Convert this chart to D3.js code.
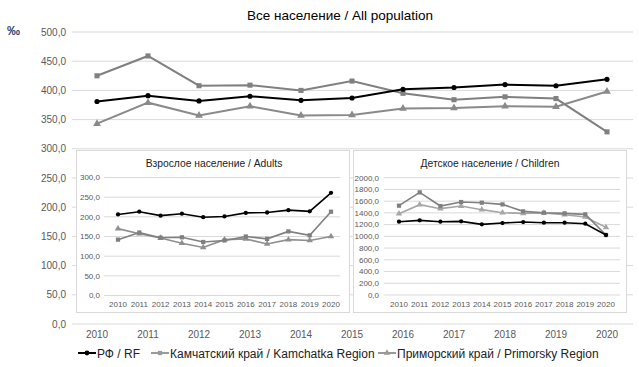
<!DOCTYPE html>
<html>
<head>
<meta charset="utf-8">
<script src="https://cdn.jsdelivr.net/npm/d3@7"></script>
<style>
body{margin:0;background:#fff;}
text{font-family:"Liberation Sans",Arial,sans-serif;}
</style>
</head>
<body>
<svg id="chart" width="639" height="367"></svg>
<script>
var years = [2010,2011,2012,2013,2014,2015,2016,2017,2018,2019,2020];

// all population
var allRF = [381,391,382,390,383,387,402,405,410,408,419];
var allKam = [425,459,408,409,400,416,395,384,389,386,329];
var allPrim = [343,379,357,373,357,358,369,370,373,372,398];

// adults
var adRF = [206,213,203,208,199,201,210,211,217,214,261];
var adKam = [142,160,147,148,136,140,150,144,163,153,213];
var adPrim = [170,157,146,133,122,142,144,131,142,140,150];

// children
var chRF = [1250,1273,1250,1256,1205,1227,1244,1233,1233,1216,1023];
var chKam = [1523,1750,1517,1585,1574,1545,1426,1403,1392,1375,1023];
var chPrim = [1386,1540,1472,1517,1455,1403,1392,1398,1369,1330,1153];

var legendNames = ['РФ / RF','Камчатский край / Kamchatka Region','Приморский край / Primorsky Region'];

var svg = d3.select('#chart');
var fmt = function(d){ return d3.format('.1f')(d).replace('.', ','); };
var gridColor = '#d9d9d9';
var labelColor = '#595959';

//draw one chart with 3 series
function drawChart(place, opt){
	var x = d3.scalePoint().domain(years).range([opt.x0, opt.x1]);
	var y = d3.scaleLinear().domain([0, opt.max]).range([opt.y0, opt.y1]);

	place.append('g')
	.selectAll('line')
	.data(d3.range(0, opt.max + 1, opt.step))
	.enter()
	.append('line')
	.attr('x1', opt.gx0).attr('x2', opt.gx1)
	.attr('y1', function(d){ return y(d); })
	.attr('y2', function(d){ return y(d); })
	.attr('stroke', gridColor)
	.attr('stroke-width', 1);

	place.append('g')
	.selectAll('text')
	.data(d3.range(0, opt.max + 1, opt.step))
	.enter()
	.append('text')
	.attr('x', opt.labelX)
	.attr('y', function(d){ return y(d) + opt.fs*0.35; })
	.attr('text-anchor', 'end')
	.attr('font-size', opt.fs)
	.attr('fill', labelColor)
	.text(fmt);

	place.append('g')
	.selectAll('text')
	.data(years)
	.enter()
	.append('text')
	.attr('x', function(d){ return x(d); })
	.attr('y', opt.xLabelY)
	.attr('text-anchor', 'middle')
	.attr('font-size', opt.xfs)
	.attr('fill', labelColor)
	.text(function(d){ return d; });

	var line = d3.line()
	.x(function(d,i){ return x(years[i]); })
	.y(function(d){ return y(d); });

	var series = [
		{v: opt.prim, c: opt.primColor, m: 'tri'},
		{v: opt.kam, c: opt.kamColor, m: 'sq'},
		{v: opt.rf, c: '#000', m: 'circ'}
	];
	series.forEach(function(s){
		place.append('path')
		.attr('d', line(s.v))
		.attr('fill', 'none')
		.attr('stroke', s.c)
		.attr('stroke-width', opt.lw);
		var sym = s.m == 'tri' ? d3.symbolTriangle : (s.m == 'sq' ? d3.symbolSquare : d3.symbolCircle);
		var size = s.m == 'circ' ? opt.ms*0.8 : opt.ms;
		place.append('g')
		.selectAll('path')
		.data(s.v)
		.enter()
		.append('path')
		.attr('d', d3.symbol().type(sym).size(size))
		.attr('transform', function(d,i){ return 'translate(' + x(years[i]) + ',' + y(d) + ')'; })
		.attr('fill', s.c);
	});
}

// main chart
svg.append('text')
.attr('x', 340).attr('y', 20)
.attr('text-anchor', 'middle')
.attr('font-size', 13.5)
.attr('fill', '#000')
.text('Все население / All population');

svg.append('text')
.attr('x', 7).attr('y', 35)
.attr('font-size', 13)
.attr('font-weight', 'bold')
.attr('fill', '#2f3f6f')
.text('‰');

drawChart(svg, {
	x0: 97, x1: 607, y0: 324, y1: 32, max: 500, step: 50,
	gx0: 72, gx1: 633, labelX: 66, fs: 10, xfs: 10, xLabelY: 338,
	rf: allRF, kam: allKam, prim: allPrim,
	kamColor: '#808080', primColor: '#8a8a8a', lw: 2, ms: 26
});

// inset boxes
function drawBox(bx, by, bw, bh, title, tx){
	var g = svg.append('g');
	g.append('rect')
	.attr('x', bx).attr('y', by)
	.attr('width', bw).attr('height', bh)
	.attr('fill', '#fff')
	.attr('stroke', gridColor)
	.attr('stroke-width', 1);
	g.append('text')
	.attr('x', tx).attr('y', by + 16)
	.attr('text-anchor', 'middle')
	.attr('font-size', 10.3)
	.attr('fill', '#222')
	.text(title);
	return g;
}

var adults = drawBox(76.5, 150.5, 273, 162, 'Взрослое население / Adults', 214);
drawChart(adults, {
	x0: 118, x1: 331, y0: 295.5, y1: 177.5, max: 300, step: 50,
	gx0: 104, gx1: 340, labelX: 100, fs: 8, xfs: 8, xLabelY: 307,
	rf: adRF, kam: adKam, prim: adPrim,
	kamColor: '#808080', primColor: '#8f8f8f', lw: 1.6, ms: 18
});

var children = drawBox(353.5, 150.5, 273, 162, 'Детское население / Children', 490);
drawChart(children, {
	x0: 399, x1: 606, y0: 295, y1: 177.7, max: 2000, step: 200,
	gx0: 384, gx1: 620, labelX: 379, fs: 8, xfs: 8, xLabelY: 307,
	rf: chRF, kam: chKam, prim: chPrim,
	kamColor: '#808080', primColor: '#a6a6a6', lw: 1.6, ms: 18
});

// legend
var legendX = [78, 151, 378];
var legendColors = ['#000', '#9a9a9a', '#9a9a9a'];
var legendSyms = [d3.symbolCircle, d3.symbolSquare, d3.symbolTriangle];
var lg = svg.append('g');
legendNames.forEach(function(n, i){
	lg.append('line')
	.attr('x1', legendX[i]).attr('x2', legendX[i] + 18)
	.attr('y1', 353).attr('y2', 353)
	.attr('stroke', legendColors[i])
	.attr('stroke-width', 2);
	lg.append('path')
	.attr('d', d3.symbol().type(legendSyms[i]).size(18))
	.attr('transform', 'translate(' + (legendX[i] + 9) + ',353)')
	.attr('fill', legendColors[i]);
	lg.append('text')
	.attr('x', legendX[i] + 19).attr('y', 357.5)
	.attr('font-size', 12)
	.attr('fill', '#222')
	.text(n);
});
</script>
</body>
</html>
